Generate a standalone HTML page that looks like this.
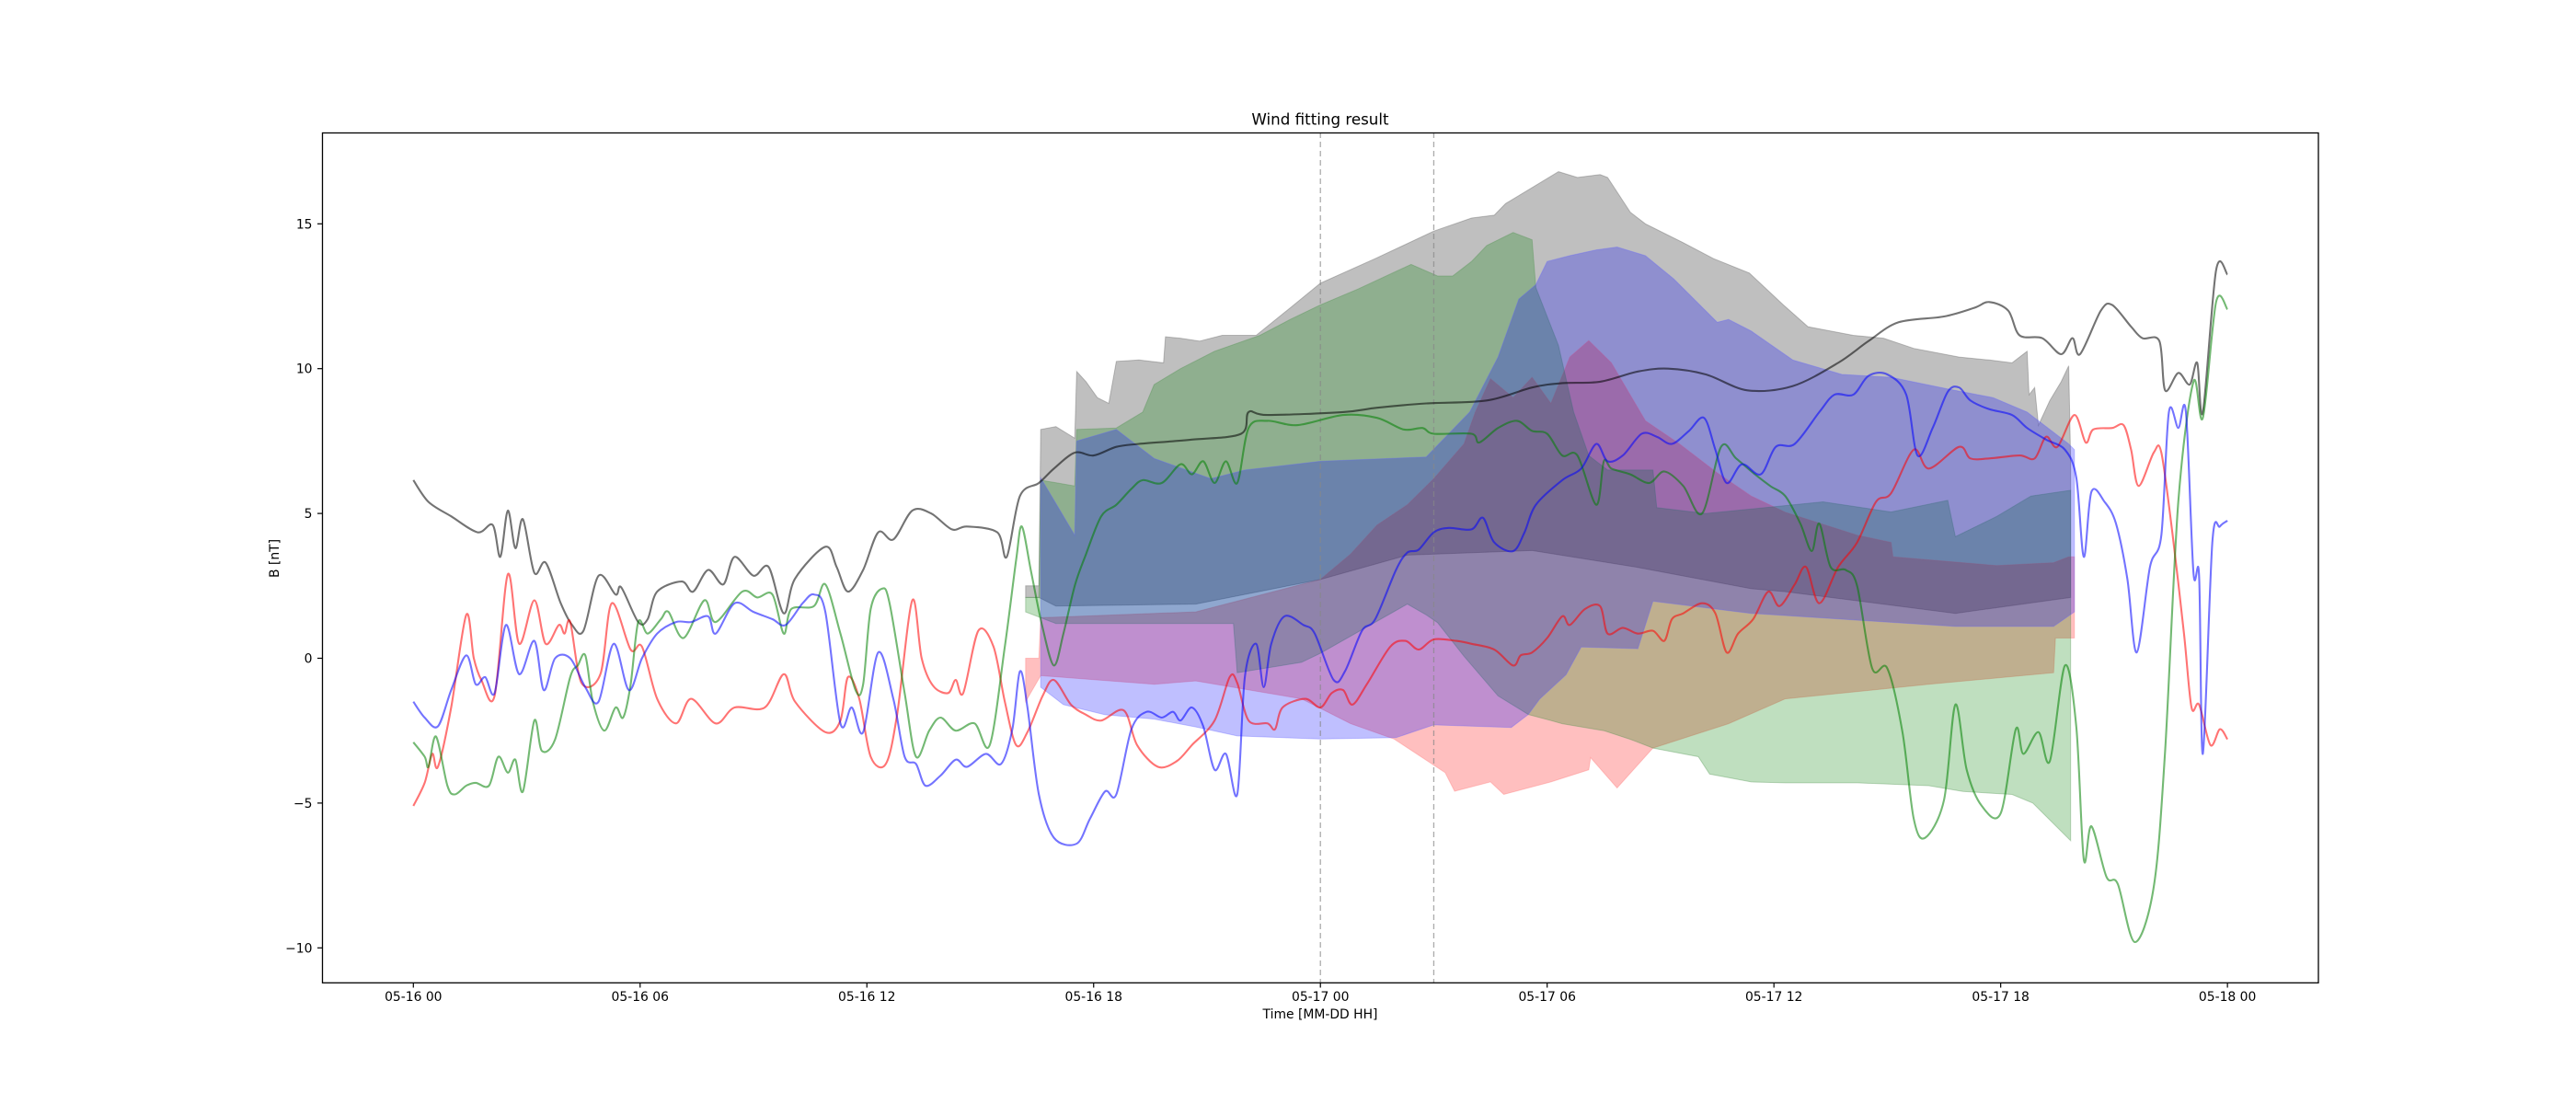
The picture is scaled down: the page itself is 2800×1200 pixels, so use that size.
<!DOCTYPE html>
<html><head><meta charset="utf-8"><title>Wind fitting result</title>
<style>
html,body{margin:0;padding:0;background:#fff;}
svg{display:block;font-family:"DejaVu Sans","Liberation Sans",sans-serif;}
</style></head>
<body>
<svg id="chart" xmlns="http://www.w3.org/2000/svg" width="2800" height="1200" viewBox="0 0 2800 1200">
<rect x="0" y="0" width="2800" height="1200" fill="#fff"/>
<defs><clipPath id="plotclip"><rect x="350" y="144" width="2170" height="924.4"/></clipPath></defs>
<g id="bands" clip-path="url(#plotclip)"></g>
<g id="lines" clip-path="url(#plotclip)"></g>
<g id="axes"></g>
<text x="1435" y="135.5" font-size="16.7" text-anchor="middle" fill="#000">Wind fitting result</text>
<text x="1435" y="1107" font-size="13.9" text-anchor="middle" fill="#000">Time [MM-DD HH]</text>
<text transform="translate(303,607) rotate(-90)" font-size="13.9" text-anchor="middle" fill="#000">B [nT]</text>
</svg>
<script>
// ---- tick data ----
const xTickHours = [0, 6, 12, 18, 24, 30, 36, 42, 48];
const xTickLabels = ["05-16 00","05-16 06","05-16 12","05-16 18","05-17 00","05-17 06","05-17 12","05-17 18","05-18 00"];
const yTickValues = [-10, -5, 0, 5, 10, 15];
const yTickLabels = ["\u221210","\u22125","0","5","10","15"];
const markerHours = [24, 27];

// ---- band data [hour, value] ----
const blackBandTop = [[16.2,2.5],[16.55,2.5],[16.6,7.9],[17,8.0],[17.5,7.6],[17.55,9.9],[17.8,9.55],[18.1,9.0],[18.4,8.8],[18.6,10.25],[19.2,10.3],[19.85,10.2],[19.9,11.1],[20.3,11.05],[20.8,10.95],[21.4,11.15],[22.3,11.15],[23.2,12.1],[24,12.95],[25.45,13.8],[27,14.75],[28,15.2],[28.6,15.3],[28.9,15.7],[30.3,16.8],[30.8,16.6],[31.4,16.7],[31.6,16.6],[32.2,15.4],[32.6,15.0],[33.6,14.35],[34.4,13.8],[35.35,13.3],[36.25,12.2],[36.9,11.45],[38.1,11.15],[38.9,11.05],[39.7,10.7],[40.9,10.4],[41.7,10.3],[42.3,10.2],[42.7,10.6],[42.75,9.1],[42.9,9.35],[43,8.05],[43.3,8.9],[43.6,9.55],[43.8,10.1],[43.85,6.8]];
const blackBandBottom = [[16.2,2.1],[16.55,2.1],[17,1.8],[20.7,1.87],[24,2.72],[26.3,3.56],[29.6,3.72],[32.4,3.14],[35.4,2.4],[36.3,2.3],[40.8,1.55],[43.85,2.1]];

const greenBandTop = [[16.2,2.1],[16.55,2.1],[16.6,6.15],[17.5,5.95],[17.55,7.9],[18.6,7.95],[19.3,8.5],[19.6,9.45],[20.3,10.0],[21.2,10.6],[22.4,11.15],[23.2,11.7],[24,12.2],[25,12.75],[26.4,13.6],[27.1,13.2],[27.5,13.2],[28,13.7],[28.4,14.25],[29.1,14.7],[29.6,14.45],[29.7,12.8],[30.3,10.8],[30.7,8.5],[31.1,7.0],[31.6,6.5],[32.8,6.5],[32.9,5.2],[34.2,5.0],[37.3,5.4],[39.1,5.05],[40.6,5.45],[40.8,4.2],[41.9,4.9],[42.8,5.6],[43.85,5.8]];
const greenBandBottom = [[16.2,1.6],[17,1.2],[21.7,1.2],[21.8,-0.5],[23.5,-0.14],[24,0.17],[26.3,1.87],[26.8,1.5],[27.1,1.23],[27.8,0.07],[28.7,-1.3],[29.5,-1.94],[30.1,-2.15],[30.4,-2.26],[31.5,-2.5],[32.2,-2.8],[32.8,-3.1],[34,-3.4],[34.3,-4.0],[35.4,-4.27],[36.3,-4.3],[38.2,-4.3],[40.1,-4.4],[41,-4.6],[42.3,-4.7],[42.85,-5.0],[43.85,-6.3]];

const redBandTop = [[16.2,0.0],[16.55,0.0],[16.6,1.4],[20.7,1.6],[24,2.72],[24.8,3.6],[25.5,4.6],[26.3,5.3],[27,6.2],[27.8,7.4],[28.1,8.5],[28.5,9.65],[29.1,9.0],[29.6,9.7],[30.1,8.8],[30.6,10.4],[31.1,10.97],[31.7,10.2],[32.6,8.2],[33.5,7.4],[34.5,6.4],[35.4,5.6],[36.3,5.04],[38.2,4.25],[39.1,4.0],[39.15,3.5],[41.9,3.2],[43.4,3.3],[43.8,3.5],[43.95,3.5]];
const redBandBottom = [[16.2,-1.5],[16.6,-0.6],[19.6,-0.9],[20.7,-0.78],[23.5,-1.4],[24.8,-2.26],[25.95,-2.79],[27.3,-3.95],[27.55,-4.59],[28.5,-4.27],[28.85,-4.7],[30.1,-4.27],[31.1,-3.85],[31.15,-3.43],[31.85,-4.48],[32.8,-3.1],[34.8,-2.26],[36.3,-1.4],[40.1,-0.9],[43.4,-0.5],[43.45,0.7],[43.95,0.7]];

const blueBandTop = [[16.6,6.23],[17.5,4.25],[17.55,7.5],[18.6,7.9],[19.6,6.9],[21.1,6.2],[22,6.5],[24,6.8],[26.8,6.95],[27.95,8.5],[28.7,10.4],[29.25,12.4],[29.7,12.9],[30,13.7],[30.6,13.9],[31.3,14.1],[31.85,14.2],[32.6,13.9],[33.35,13.1],[34.5,11.6],[34.8,11.7],[35.4,11.3],[36.5,10.3],[37.8,9.8],[39.1,9.7],[40.6,9.3],[41.8,9.0],[42.7,8.5],[43.8,7.4],[43.95,7.2]];
const blueBandBottom = [[16.6,-1.0],[17.2,-1.6],[18.3,-1.95],[19.6,-2.1],[20.7,-2.37],[21.8,-2.68],[24,-2.79],[26,-2.74],[27,-2.3],[29.05,-2.39],[29.5,-1.94],[29.8,-1.41],[30.5,-0.57],[30.9,0.39],[32.4,0.33],[32.8,1.97],[35.4,1.55],[40.8,1.1],[43.4,1.1],[43.95,1.6]];

// ---- line series data [hour, value] ----
const blackLine = [[0,6.15],[0.4,5.4],[1,4.9],[1.7,4.35],[2.1,4.6],[2.3,3.5],[2.5,5.1],[2.7,3.8],[2.9,4.8],[3.2,2.95],[3.5,3.3],[3.9,1.9],[4.2,1.15],[4.5,0.95],[4.9,2.85],[5.35,2.2],[5.5,2.45],[5.95,1.25],[6.2,1.35],[6.45,2.3],[7.1,2.65],[7.4,2.3],[7.8,3.05],[8.2,2.55],[8.5,3.5],[9,2.85],[9.4,3.15],[9.8,1.55],[10.1,2.75],[10.9,3.85],[11.2,3.15],[11.5,2.3],[11.9,3.05],[12.3,4.35],[12.7,4.1],[13.2,5.1],[13.7,5.0],[14.25,4.45],[14.65,4.55],[15.45,4.35],[15.7,3.5],[16.05,5.6],[16.55,6.05],[16.95,6.55],[17.5,7.1],[18,7.0],[18.6,7.3],[19.2,7.4],[20.6,7.55],[21.9,7.75],[22.1,8.5],[22.6,8.4],[24.6,8.5],[25.5,8.65],[26.8,8.8],[28.4,8.9],[29.6,9.35],[30.4,9.5],[31.4,9.55],[32.4,9.9],[33.2,10.0],[34.2,9.8],[35.3,9.25],[36.5,9.4],[37.7,10.2],[38.5,10.95],[39.3,11.6],[40.5,11.8],[41.3,12.1],[41.7,12.3],[42.2,12.0],[42.5,11.15],[43.1,11.05],[43.6,10.5],[43.9,11.05],[44.1,10.5],[44.65,12.0],[44.95,12.2],[45.45,11.45],[45.75,11.05],[46.2,10.95],[46.35,9.25],[46.7,9.85],[47,9.45],[47.2,10.2],[47.35,8.5],[47.7,13.4],[48,13.25]];
const greenLine = [[0,-2.9],[0.3,-3.4],[0.4,-3.75],[0.6,-2.7],[0.9,-4.4],[1.1,-4.7],[1.4,-4.4],[1.65,-4.3],[2,-4.4],[2.25,-3.4],[2.5,-3.95],[2.7,-3.5],[2.9,-4.6],[3.2,-2.15],[3.4,-3.2],[3.75,-2.8],[4.15,-0.65],[4.35,-0.25],[4.55,0.1],[4.75,-1.5],[5.05,-2.5],[5.35,-1.7],[5.55,-2.05],[5.75,-0.9],[5.95,1.25],[6.2,0.85],[6.55,1.35],[6.75,1.6],[7.15,0.7],[7.7,2.0],[8,1.25],[8.7,2.3],[9.1,2.1],[9.5,2.2],[9.8,0.85],[10,1.7],[10.6,1.8],[10.9,2.55],[11.3,0.85],[11.7,-1.1],[11.9,-0.9],[12.1,1.7],[12.4,2.4],[12.6,1.9],[13,-1.2],[13.3,-3.4],[13.65,-2.5],[13.95,-2.05],[14.35,-2.5],[14.85,-2.25],[15.25,-3.0],[15.65,0.4],[15.95,3.4],[16.1,4.55],[16.35,2.95],[16.65,1.05],[16.95,-0.25],[17.2,0.85],[17.5,2.5],[17.8,3.6],[18.2,4.9],[18.6,5.3],[19,5.85],[19.3,6.15],[19.8,6.05],[20.3,6.7],[20.6,6.35],[20.9,6.8],[21.2,6.05],[21.5,6.8],[21.8,6.05],[22.1,7.95],[22.6,8.2],[23.4,8.05],[24.6,8.4],[25.5,8.3],[26.2,7.9],[26.7,7.95],[27,7.75],[28,7.75],[28.2,7.45],[28.7,7.95],[29.2,8.2],[29.6,7.85],[30,7.75],[30.4,7.0],[30.8,7.0],[31.3,5.3],[31.5,6.8],[31.7,6.55],[32.2,6.35],[32.7,6.05],[33.1,6.45],[33.6,5.95],[34.1,5.0],[34.6,7.3],[35,6.9],[35.5,6.35],[35.9,5.95],[36.3,5.6],[36.7,4.65],[37,3.7],[37.2,4.65],[37.5,3.15],[37.9,3.05],[38.2,2.5],[38.6,-0.35],[39,-0.35],[39.4,-2.55],[39.7,-5.55],[40,-6.2],[40.5,-4.9],[40.8,-1.6],[41.1,-3.85],[41.5,-5.1],[42,-5.35],[42.4,-2.45],[42.6,-3.3],[43,-2.55],[43.3,-3.55],[43.7,-0.25],[44,-2.35],[44.2,-6.95],[44.4,-5.8],[44.8,-7.55],[45.1,-7.8],[45.55,-9.8],[46.05,-7.9],[46.35,-3.2],[46.7,5.4],[47.1,9.55],[47.35,8.3],[47.7,12.3],[48,12.05]];
const redLine = [[0,-5.1],[0.3,-4.3],[0.5,-3.3],[0.65,-3.75],[1,-1.7],[1.4,1.5],[1.6,0],[1.8,-0.75],[2.15,-1.3],[2.5,2.9],[2.8,0.5],[3.2,2.0],[3.5,0.5],[3.85,1.15],[4,0.85],[4.15,1.25],[4.45,-0.85],[4.95,-0.55],[5.25,1.9],[5.75,0.3],[6.05,0.4],[6.45,-1.4],[6.95,-2.25],[7.35,-1.4],[8,-2.25],[8.5,-1.7],[9.3,-1.7],[9.8,-0.55],[10.1,-1.5],[10.9,-2.55],[11.3,-2.15],[11.5,-0.65],[11.8,-1.4],[12.1,-3.4],[12.5,-3.65],[12.8,-1.95],[13.2,2.0],[13.45,0],[13.75,-0.95],[14.15,-1.2],[14.35,-0.75],[14.55,-1.2],[14.95,0.95],[15.35,0.4],[15.65,-1.5],[15.95,-3.0],[16.25,-2.55],[16.65,-1.3],[16.95,-0.75],[17.4,-1.6],[17.8,-1.95],[18.2,-2.15],[18.8,-1.8],[19.15,-3.0],[19.7,-3.75],[20.2,-3.55],[20.6,-3.0],[21.2,-2.15],[21.6,-0.65],[21.8,-0.85],[22.1,-2.15],[22.6,-2.25],[22.8,-2.45],[23,-1.7],[23.6,-1.4],[24,-1.7],[24.3,-1.2],[24.6,-1.1],[24.85,-1.6],[25.25,-0.85],[25.85,0.4],[26.25,0.6],[26.6,0.3],[27,0.65],[27.6,0.6],[28,0.5],[28.6,0.3],[29.1,-0.25],[29.3,0.1],[29.6,0.2],[30,0.7],[30.4,1.45],[30.6,1.15],[31,1.7],[31.4,1.8],[31.6,0.85],[32,1.05],[32.4,0.85],[32.8,0.95],[33.1,0.6],[33.3,1.35],[33.6,1.55],[34.1,1.9],[34.45,1.55],[34.75,0.2],[35.05,0.85],[35.45,1.35],[35.85,2.3],[36.15,1.8],[36.55,2.55],[36.85,3.15],[37.2,1.9],[37.7,3.15],[38.2,4.0],[38.7,5.4],[39.1,5.7],[39.7,7.2],[40.1,6.55],[40.9,7.3],[41.2,6.9],[41.7,6.9],[42.5,7.0],[42.9,6.9],[43.2,7.65],[43.5,7.3],[43.95,8.4],[44.25,7.45],[44.45,7.9],[44.95,7.95],[45.25,8.05],[45.45,7.2],[45.65,5.95],[46.05,7.1],[46.25,7.1],[46.55,4.25],[46.85,0.85],[47.05,-1.7],[47.25,-1.6],[47.55,-3.0],[47.8,-2.45],[48,-2.8]];
const blueLine = [[0,-1.5],[0.3,-2.05],[0.65,-2.35],[1,-1.1],[1.4,0.1],[1.65,-0.9],[1.9,-0.65],[2.15,-1.2],[2.45,1.15],[2.8,-0.55],[3.2,0.6],[3.45,-1.1],[3.75,0],[4.15,0],[4.55,-1.0],[4.9,-1.5],[5.3,0.5],[5.7,-1.1],[6.05,0],[6.45,0.85],[6.95,1.25],[7.35,1.25],[7.8,1.45],[8,0.85],[8.5,1.9],[9,1.6],[9.5,1.35],[9.85,1.15],[10.3,1.9],[10.6,2.2],[10.9,1.6],[11.3,-2.25],[11.6,-1.7],[11.9,-2.55],[12.3,0.2],[12.7,-1.4],[13,-3.4],[13.3,-3.65],[13.55,-4.4],[13.95,-4.05],[14.35,-3.5],[14.65,-3.75],[15.15,-3.3],[15.55,-3.65],[15.85,-2.45],[16.05,-0.45],[16.25,-1.7],[16.55,-4.7],[16.95,-6.2],[17.55,-6.4],[17.9,-5.55],[18.3,-4.6],[18.6,-4.7],[19,-2.45],[19.4,-1.85],[19.8,-2.05],[20.1,-1.85],[20.3,-2.15],[20.6,-1.7],[20.9,-2.35],[21.2,-3.85],[21.5,-3.3],[21.8,-4.7],[22,-0.65],[22.3,0.5],[22.5,-1.0],[22.7,0.5],[23.05,1.45],[23.55,1.15],[23.85,0.85],[24.35,-0.75],[24.65,-0.45],[25.1,0.95],[25.45,1.35],[26,3.05],[26.3,3.65],[26.6,3.75],[27,4.35],[27.4,4.5],[28,4.45],[28.3,4.85],[28.6,4.0],[29.1,3.7],[29.4,4.35],[29.7,5.3],[30.4,6.15],[30.9,6.55],[31.3,7.4],[31.6,6.8],[32,7.0],[32.5,7.75],[32.9,7.65],[33.3,7.4],[33.75,7.85],[34.15,8.3],[34.45,7.2],[34.75,6.05],[35.15,6.7],[35.65,6.35],[36.05,7.3],[36.55,7.4],[37.2,8.5],[37.6,9.1],[38.1,9.1],[38.5,9.75],[39,9.8],[39.5,9.1],[39.8,7.0],[40.2,7.95],[40.6,9.2],[40.9,9.35],[41.2,8.9],[41.7,8.6],[42.3,8.4],[42.7,7.95],[43.2,7.55],[43.7,7.2],[44,6.25],[44.2,3.5],[44.4,5.75],[44.75,5.4],[45.05,4.65],[45.35,2.75],[45.6,0.2],[45.95,3.15],[46.25,4.25],[46.45,8.5],[46.7,7.95],[46.9,8.5],[47.1,2.95],[47.25,2.85],[47.35,-3.3],[47.6,4.0],[47.8,4.55],[48,4.75]];

// ---- axis functions ----
const X0 = 449.3, PX_PER_HOUR = 41.08;
const Y0 = 715.5, PX_PER_UNIT = 31.48;
function xScale(h){ return X0 + PX_PER_HOUR*h; }
function yScale(v){ return Y0 - PX_PER_UNIT*v; }
const NS = "http://www.w3.org/2000/svg";
function mk(tag, attrs, parent){
  const e = document.createElementNS(NS, tag);
  for (const k in attrs) e.setAttribute(k, attrs[k]);
  parent.appendChild(e);
  return e;
}
function pts(arr){ return arr.map(p => xScale(p[0]).toFixed(1)+","+yScale(p[1]).toFixed(1)).join(" "); }
function smoothPath(arr){
  const P = arr.map(p => [xScale(p[0]), yScale(p[1])]);
  let d = "M" + P[0][0].toFixed(1) + "," + P[0][1].toFixed(1);
  const t = 0.16;
  for (let i = 0; i < P.length - 1; i++) {
    const p0 = P[Math.max(0, i-1)], p1 = P[i], p2 = P[i+1], p3 = P[Math.min(P.length-1, i+2)];
    const c1x = p1[0] + (p2[0]-p0[0])*t, c1y = p1[1] + (p2[1]-p0[1])*t;
    const c2x = p2[0] - (p3[0]-p1[0])*t, c2y = p2[1] - (p3[1]-p1[1])*t;
    d += " C" + c1x.toFixed(1) + "," + c1y.toFixed(1) + " " + c2x.toFixed(1) + "," + c2y.toFixed(1) + " " + p2[0].toFixed(1) + "," + p2[1].toFixed(1);
  }
  return d;
}

const bandsG = document.getElementById("bands");
const linesG = document.getElementById("lines");
const axesG = document.getElementById("axes");

const bandDefs = [
  ["black-band", blackBandTop, blackBandBottom, "#000000", "#555555"],
  ["red-band", redBandTop, redBandBottom, "#ff0000", "#ff7070"],
  ["green-band", greenBandTop, greenBandBottom, "#008000", "#4a904a"],
  ["blue-band", blueBandTop, blueBandBottom, "#0000ff", "#6060ff"]
];
bandDefs.forEach(b => {
  const poly = mk("polygon", {points: pts(b[1].concat(b[2].slice().reverse())), fill: b[3], "fill-opacity": "0.25", stroke: b[4], "stroke-opacity": "0.35", "stroke-width": "1"}, bandsG);
  
  
});

markerHours.forEach(h => {
  const l = mk("line", {x1: xScale(h), x2: xScale(h), y1: 144, y2: 1068.4, stroke: "#888", "stroke-opacity": "0.7", "stroke-width": "1.3", "stroke-dasharray": "6,4"}, bandsG);
  
  
});

const lineDefs = [
  ["black-line", blackLine, "#000000"],
  ["red-line", redLine, "#ff0000"],
  ["green-line", greenLine, "#008000"],
  ["blue-line", blueLine, "#0000ff"]
];
lineDefs.forEach(d => {
  const pl = mk("path", {d: smoothPath(d[1]), fill: "none", stroke: d[2], "stroke-opacity": "0.55", "stroke-width": "2.1", "stroke-linejoin": "round"}, linesG);
  
  
});

const frame = mk("rect", {x: 350.5, y: 144.5, width: 2169.5, height: 923.8, fill: "none", stroke: "#000", "stroke-width": "1.3"}, axesG);



xTickHours.forEach((h, i) => {
  const x = xScale(h);
  const t = mk("line", {x1: x, x2: x, y1: 1068.4, y2: 1073.5, stroke: "#000", "stroke-width": "1.2"}, axesG);
  
  
  const lab = mk("text", {x: x, y: 1088, "font-size": "13.9", "text-anchor": "middle", fill: "#000"}, axesG);
  lab.textContent = xTickLabels[i];
  
  
});
yTickValues.forEach((v, i) => {
  const y = yScale(v);
  const t = mk("line", {x1: 345, x2: 350.5, y1: y, y2: y, stroke: "#000", "stroke-width": "1.2"}, axesG);
  
  
  const lab = mk("text", {x: 339.5, y: y + 5, "font-size": "13.9", "text-anchor": "end", fill: "#000"}, axesG);
  lab.textContent = yTickLabels[i];
  
  
});
</script>
</body></html>
